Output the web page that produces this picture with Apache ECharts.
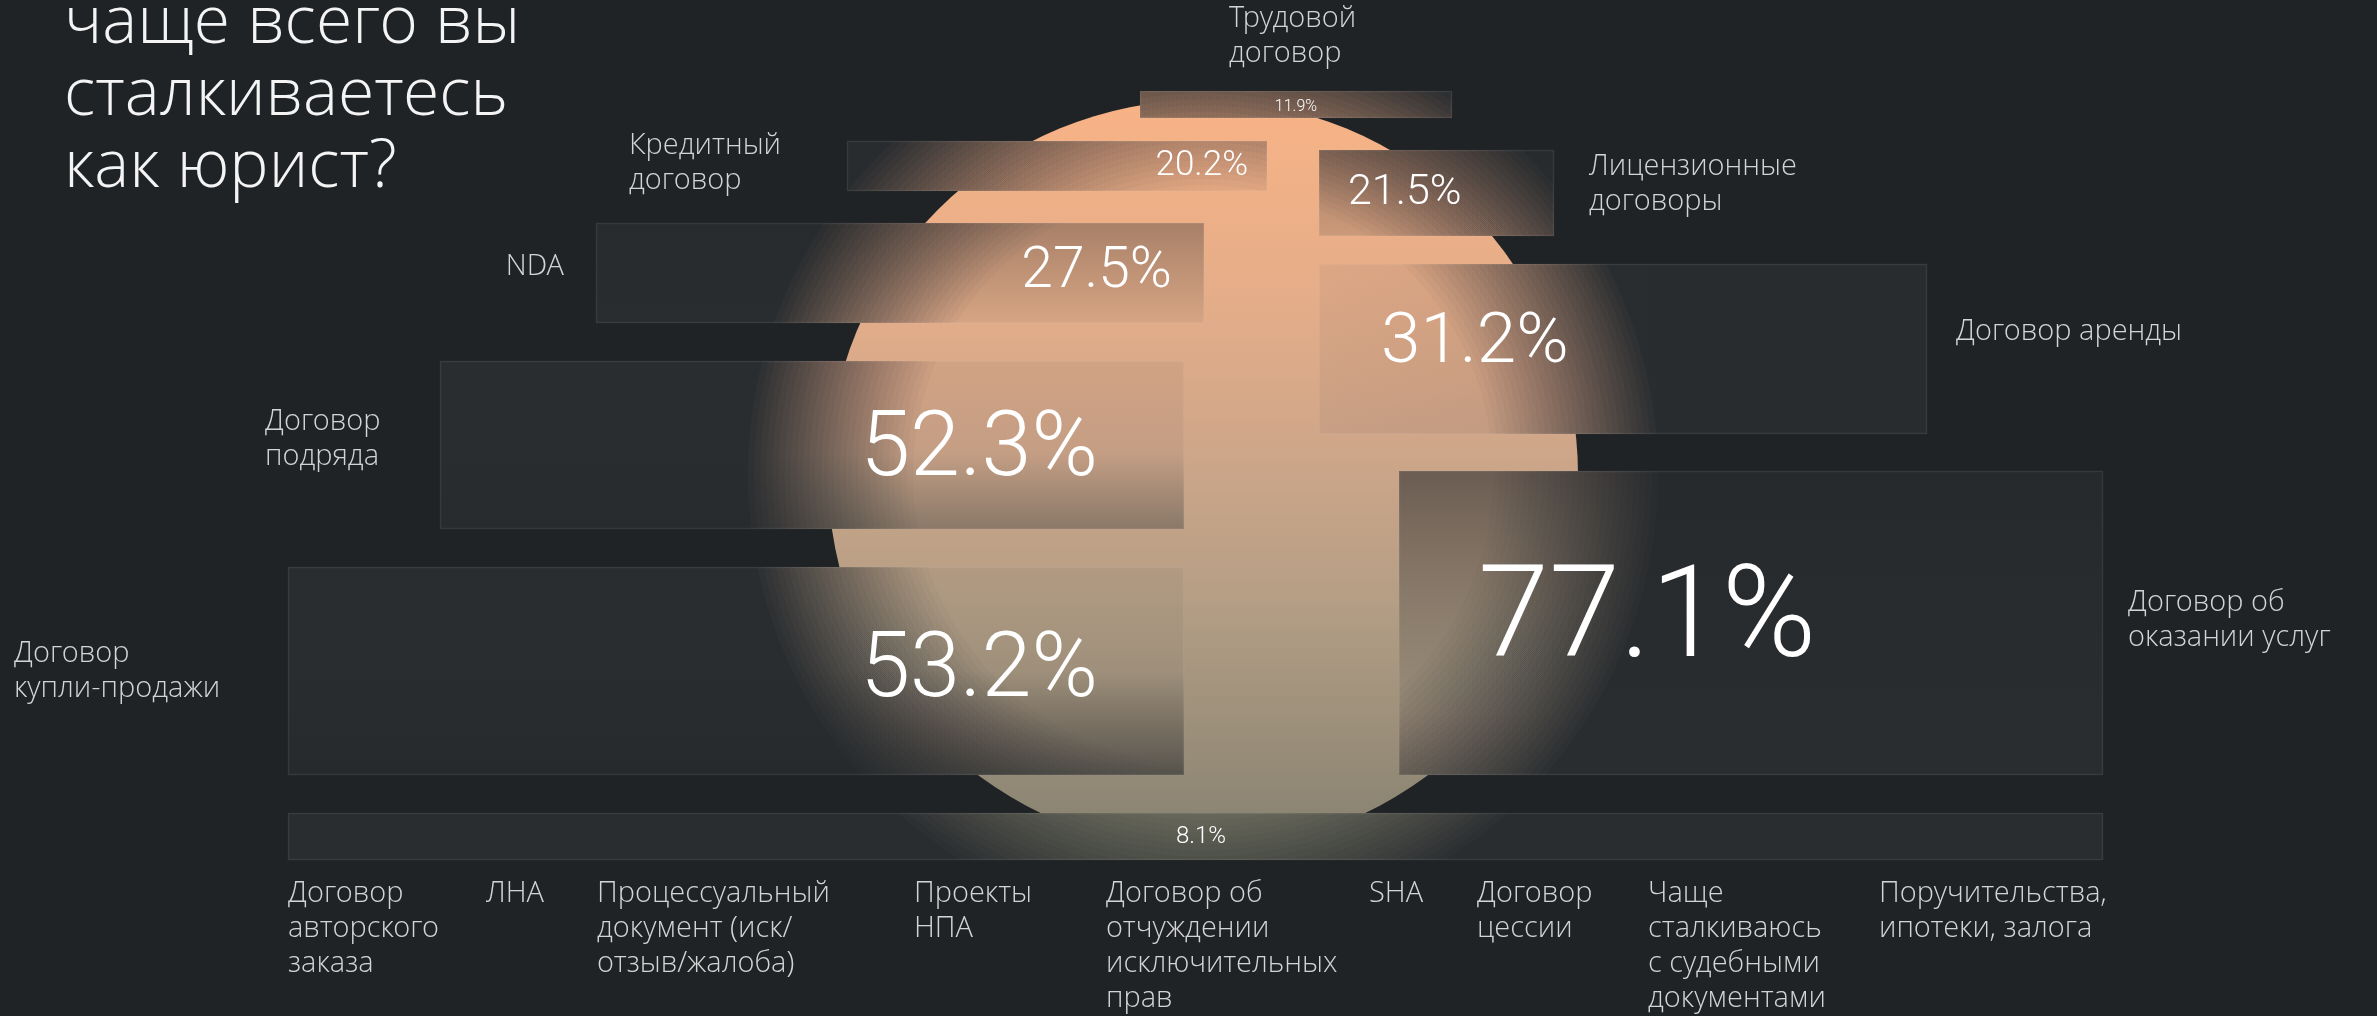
<!DOCTYPE html>
<html lang="ru">
<head>
    <meta charset="UTF-8">
    <title>С какими документами чаще всего вы сталкиваетесь как юрист?</title>
    <script src="https://cdn.jsdelivr.net/npm/echarts@6.0.0/dist/echarts.min.js"></script>
    <style>
        html, body { margin: 0; padding: 0; background: #202326; }
        #main { width: 2377px; height: 1016px; }
    </style>
</head>
<body>
    <div id="main"></div>

    <script>
        // данные опроса
        var categories = ['Договор об\nоказании услуг', 'Договор\nкупли-продажи', 'Договор\nподряда', 'Договор аренды',
            'NDA', 'Лицензионные\nдоговоры', 'Кредитный\nдоговор', 'Трудовой\nдоговор', ''];
        var values = [77.1, 53.2, 52.3, 31.2, 27.5, 21.5, 20.2, 11.9, 8.1];
        // всё, что попало в последнюю полосу (8.1%)
        var otherCategories = ['Договор\nавторского\nзаказа', 'ЛНА', 'Процессуальный\nдокумент (иск/\nотзыв/жалоба)',
            'Проекты\nНПА', 'Договор об\nотчуждении\nисключительных\nправ', 'SHA', 'Договор\nцессии',
            'Чаще\nсталкиваюсь\nс судебными\nдокументами', 'Поручительства,\nипотеки, залога'];

        // раскладка (в единицах осей, ось = холст)
        var boxLayout = [
            [1399, 471, 2103, 775],
            [288, 567, 1184, 775],
            [440, 361, 1184, 529],
            [1319, 264, 1927, 434],
            [596, 223, 1204, 323],
            [1319, 150, 1554, 236],
            [847, 141, 1267, 191],
            [1140, 91, 1452, 118],
            [288, 813, 2103, 860]
        ];
        // затемнение стекла: [x1, y1, x2, y2, alpha1, alpha2] в долях прямоугольника
        var boxTint = [
            [0, 0, 0, 0.8, 0.55, 0],
            [0, 0.5, 0, 1, 0, 0.5],
            [0, 0.55, 0, 1, 0, 0.3],
            [0, 0, 1, 0, 0, 0.1],
            [0, 0, 0, 1, 0.3, 0],
            [0, 0, 0, 1, 0.35, 0.1],
            [0, 0, 1, 0, 0.2, 0],
            [0, 0, 0, 1, 0.2, 0.1],
            [0, 0, 0, 1, 0, 0]
        ];
        // x, y, выравнивание, размер шрифта
        var valueLabelLayout = [
            [1478, 624, 'left', 128],
            [1098, 673, 'right', 90],
            [1098, 452, 'right', 90],
            [1381, 344, 'left', 71],
            [1172, 273, 'right', 57],
            [1348, 193, 'left', 43],
            [1248, 166, 'right', 35],
            [1296, 107, 'center', 16],
            [1201, 837, 'center', 24]
        ];
        var nameLabelLayout = [
            [2128, 586, 'left'],
            [14, 637, 'left'],
            [265, 405, 'left'],
            [1956, 315, 'left'],
            [564, 250, 'right'],
            [1589, 150, 'left'],
            [629, 129, 'left'],
            [1229, 2, 'left'],
            [0, 0, 'left']
        ];
        var otherLabelX = [288, 486, 597, 914, 1106, 1369, 1477, 1648, 1879];
        var otherLabelTop = 877;
        var sun = { cx: 1203, cy: 475, r: 375 };

        var labelFont = '"Open Sans Light", "Open Sans", "Noto Sans", sans-serif';
        var numberFont = 'Roboto, "Open Sans", sans-serif';

        function sunFill(api) {
            var top = api.coord([0, sun.cy - sun.r])[1];
            var bottom = api.coord([0, sun.cy + sun.r])[1];
            return new echarts.graphic.LinearGradient(0, top, 0, bottom, [
                { offset: 0, color: '#f8b386' },
                { offset: 0.27, color: '#e4ad89' },
                { offset: 0.47, color: '#cea689' },
                { offset: 0.67, color: '#b49e85' },
                { offset: 1, color: '#858170' }
            ], true);
        }

        function renderSun(params, api) {
            var c = api.coord([sun.cx, sun.cy]);
            var r = api.size([sun.r, 0])[0];
            return {
                type: 'circle',
                shape: { cx: c[0], cy: c[1], r: r },
                style: { fill: sunFill(api) }
            };
        }

        // "матовое стекло": непрозрачный прямоугольник + размытый круг внутри
        function renderBox(params, api) {
            var i = params.dataIndex;
            var b = boxLayout[i];
            var p0 = api.coord([b[0], b[1]]);
            var p1 = api.coord([b[2], b[3]]);
            var x = Math.min(p0[0], p1[0]), y = Math.min(p0[1], p1[1]);
            var w = Math.abs(p1[0] - p0[0]), h = Math.abs(p1[1] - p0[1]);
            var c = api.coord([sun.cx, sun.cy]);
            var r = api.size([sun.r, 0])[0];
            var fill = sunFill(api);

            var N = 28, inner = 85, outer = 80, M = 0.94;
            var rings = [];
            for (var k = 1; k <= N; k++) {
                var rad = r + outer - (outer + inner) * (k - 1) / (N - 1);
                var a = (M / N) / (1 - M * (k - 1) / N);
                rings.push({
                    type: 'circle',
                    shape: { cx: c[0], cy: c[1], r: rad },
                    style: { fill: fill, opacity: a }
                });
            }
            var t = boxTint[i];
            rings.push({
                type: 'rect',
                shape: { x: x, y: y, width: w, height: h },
                style: {
                    fill: new echarts.graphic.LinearGradient(t[0], t[1], t[2], t[3], [
                        { offset: 0, color: 'rgba(36,39,42,' + t[4] + ')' },
                        { offset: 1, color: 'rgba(36,39,42,' + t[5] + ')' }
                    ])
                }
            });

            var children = [
                { type: 'rect', shape: { x: x, y: y, width: w, height: h }, style: { fill: '#2a2d30' } },
                {
                    type: 'group',
                    clipPath: { type: 'rect', shape: { x: x, y: y, width: w, height: h } },
                    children: rings
                },
                {
                    type: 'rect', shape: { x: x + 0.5, y: y + 0.5, width: w - 1, height: h - 1 },
                    style: { fill: 'none', stroke: 'rgba(255,255,255,0.07)', lineWidth: 1.5 }
                }
            ];

            var vl = valueLabelLayout[i];
            var vp = api.coord([vl[0], vl[1]]);
            children.push({
                type: 'text',
                style: {
                    text: values[i].toFixed(1) + '%',
                    x: vp[0], y: vp[1],
                    align: vl[2], verticalAlign: 'middle',
                    fill: '#ffffff',
                    fontSize: vl[3], fontWeight: 300, fontFamily: numberFont
                }
            });

            if (categories[i]) {
                var nl = nameLabelLayout[i];
                var np = api.coord([nl[0], nl[1]]);
                children.push({
                    type: 'text',
                    style: {
                        text: categories[i],
                        x: np[0], y: np[1],
                        align: nl[2], verticalAlign: 'top',
                        fill: '#d4d4d4',
                        fontSize: 29, lineHeight: 35, fontWeight: 300, fontFamily: labelFont
                    }
                });
            }
            return { type: 'group', children: children };
        }

        function renderOther(params, api) {
            var i = params.dataIndex;
            var p = api.coord([otherLabelX[i], otherLabelTop]);
            return {
                type: 'text',
                style: {
                    text: otherCategories[i],
                    x: p[0], y: p[1],
                    align: 'left', verticalAlign: 'top',
                    fill: '#d4d4d4',
                    fontSize: 29, lineHeight: 35, fontWeight: 300, fontFamily: labelFont
                }
            };
        }

        var myChart = echarts.init(document.getElementById('main'));
        var option = {
            backgroundColor: '#202326',
            animation: false,
            title: {
                text: 'чаще всего вы\nсталкиваетесь\nкак юрист?',
                left: 64,
                top: -10,
                padding: 0,
                textStyle: {
                    color: '#f4f4f4',
                    fontSize: 66,
                    lineHeight: 72,
                    fontWeight: 300,
                    fontFamily: labelFont
                }
            },
            grid: { left: 0, right: 0, top: 0, bottom: 0 },
            xAxis: { type: 'value', min: 0, max: 2377, show: false },
            yAxis: { type: 'value', min: 0, max: 1016, inverse: true, show: false },
            series: [
                {
                    name: 'фон',
                    type: 'custom',
                    clip: false,
                    silent: true,
                    renderItem: renderSun,
                    data: [[sun.cx, sun.cy]],
                    z: 1
                },
                {
                    name: 'Доля',
                    type: 'custom',
                    clip: false,
                    renderItem: renderBox,
                    data: values.map(function (v, i) {
                        return { name: categories[i], value: [i, v] };
                    }),
                    z: 2
                },
                {
                    name: 'Другое',
                    type: 'custom',
                    clip: false,
                    renderItem: renderOther,
                    data: otherCategories.map(function (name, i) {
                        return { name: name, value: [i, values[8]] };
                    }),
                    z: 3
                }
            ]
        };

        myChart.setOption(option);
    </script>
</body>
</html>
